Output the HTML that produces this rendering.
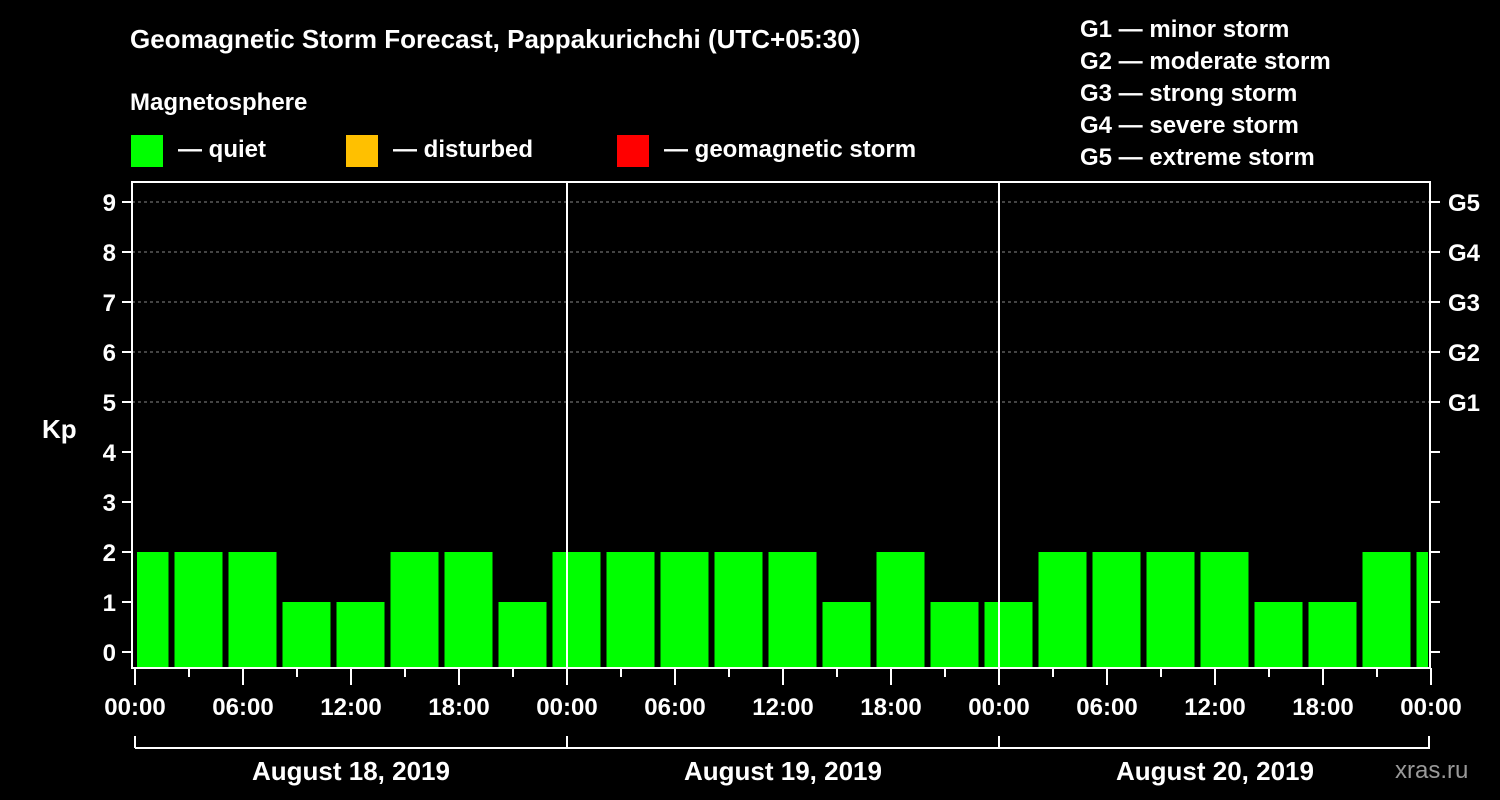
<!DOCTYPE html>
<html><head><meta charset="utf-8"><style>
html,body{margin:0;background:#000;}
svg{display:block;font-family:"Liberation Sans",Arial,sans-serif;font-weight:bold;}
</style></head><body>
<svg id="chart" width="1500" height="800" viewBox="0 0 1500 800">
<text x="130" y="48" fill="#fff" font-size="26">Geomagnetic Storm Forecast, Pappakurichchi (UTC+05:30)</text>
<text x="130" y="110" fill="#fff" font-size="24">Magnetosphere</text>
<g><rect x="131" y="135" width="32" height="32" fill="#00ff00"/><text x="178" y="157" fill="#fff" font-size="24">— quiet</text></g>
<g><rect x="346" y="135" width="32" height="32" fill="#ffc000"/><text x="393" y="157" fill="#fff" font-size="24">— disturbed</text></g>
<g><rect x="617" y="135" width="32" height="32" fill="#ff0000"/><text x="664" y="157" fill="#fff" font-size="24">— geomagnetic storm</text></g>
<g fill="#fff" font-size="24">
<text x="1080" y="37">G1 — minor storm</text><text x="1080" y="69">G2 — moderate storm</text><text x="1080" y="101">G3 — strong storm</text><text x="1080" y="133">G4 — severe storm</text><text x="1080" y="165">G5 — extreme storm</text>
</g>
<text x="42" y="438" fill="#fff" font-size="26">Kp</text>
<text x="1395" y="778" fill="#999" font-size="24" font-weight="normal">xras.ru</text>
<g id="grid"></g><g id="bars"></g><g id="axes"></g>
</svg>
<script>
const kpValues=[2,2,2,1,1,2,2,1,2,2,2,2,2,1,2,1,1,2,2,2,2,1,1,2,2];
const yTicks=[0,1,2,3,4,5,6,7,8,9];
const gLabels=["G1","G2","G3","G4","G5"];
const xTickLabels=["00:00","06:00","12:00","18:00","00:00","06:00","12:00","18:00","00:00","06:00","12:00","18:00","00:00"];
const dayLabels=["August 18, 2019","August 19, 2019","August 20, 2019"];
const NS="http://www.w3.org/2000/svg";
const X0=135,HOUR=18,Y0=652,UNIT=50,TOP=182,BOT=668,RIGHT=1430,LEFT=132;
const x=h=>X0+h*HOUR, y=v=>Y0-v*UNIT;
function mk(tag,attrs,parent,txt){const e=document.createElementNS(NS,tag);for(const k in attrs)e.setAttribute(k,attrs[k]);if(txt!==undefined)e.textContent=txt;document.getElementById(parent).appendChild(e);return e;}
// bars: 3-hour bins starting at -0.833h
kpValues.forEach((v,i)=>{
  let s=x(-0.8333+3*i)+0.5, e=s+48;
  s=Math.max(s,137); e=Math.min(e,1428);
  const col=v>=5?"#ff0000":(v>=4?"#ffc000":"#00ff00");
  const r=mk("rect",{x:s,y:y(v),width:e-s,height:BOT-y(v),fill:col},"bars");
  
  
});
// grid
yTicks.filter(t=>t>=5).forEach(t=>{
  const l=mk("line",{x1:LEFT,x2:RIGHT,y1:y(t),y2:y(t),stroke:"#888","stroke-dasharray":"3,3","stroke-width":1},"grid");
  
  
});
// frame
const f=mk("rect",{x:LEFT,y:TOP,width:RIGHT-LEFT,height:BOT-TOP,fill:"none",stroke:"#fff","stroke-width":2},"axes");


[1,2].forEach(d=>{
  const l=mk("line",{x1:x(24*d),x2:x(24*d),y1:TOP,y2:BOT,stroke:"#fff","stroke-width":2},"axes");
  
  
});
yTicks.forEach(t=>{
  mk("line",{x1:122,x2:LEFT,y1:y(t),y2:y(t),stroke:"#fff","stroke-width":2},"axes");
  mk("line",{x1:RIGHT,x2:1440,y1:y(t),y2:y(t),stroke:"#fff","stroke-width":2},"axes");
  const tx=mk("text",{x:116,y:y(t)+9,fill:"#fff","font-size":24,"text-anchor":"end"},"axes",t);
  
  
});
gLabels.forEach((g,i)=>{
  const tx=mk("text",{x:1448,y:y(5+i)+9,fill:"#fff","font-size":24},"axes",g);
  
  
});
for(let h=0;h<=72;h+=3){
  const major=h%6===0;
  mk("line",{x1:x(h),x2:x(h),y1:BOT,y2:major?685:677,stroke:"#fff","stroke-width":2},"axes");
}
xTickLabels.forEach((lab,i)=>{
  const tx=mk("text",{x:x(6*i),y:715,fill:"#fff","font-size":24,"text-anchor":"middle"},"axes",lab);
  
  
});
mk("line",{x1:X0,x2:RIGHT,y1:748,y2:748,stroke:"#fff","stroke-width":2},"axes");
[0,24,48,72].forEach(h=>mk("line",{x1:Math.min(x(h),RIGHT-1),x2:Math.min(x(h),RIGHT-1),y1:736,y2:748,stroke:"#fff","stroke-width":2},"axes"));
dayLabels.forEach((d,i)=>{
  const tx=mk("text",{x:x(24*i+12),y:780,fill:"#fff","font-size":26,"text-anchor":"middle"},"axes",d);
  
  
});
</script>
</body></html>
